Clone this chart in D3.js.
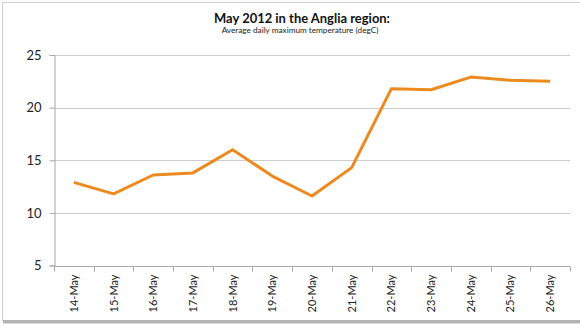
<!DOCTYPE html>
<html>
<head>
<meta charset="utf-8">
<script src="https://cdn.jsdelivr.net/npm/d3@7/dist/d3.min.js"></script>
<style>
  html, body { margin: 0; padding: 0; background: #fff; }
  svg { display: block; }
</style>
</head>
<body>
<svg id="chart" width="580" height="326"></svg>
<script>
// Daily maximum temperature, Anglia region, May 2012
const days = ["14-May", "15-May", "16-May", "17-May", "18-May", "19-May", "20-May",
              "21-May", "22-May", "23-May", "24-May", "25-May", "26-May"];
const maxTemp = [12.9, 11.8, 13.6, 13.8, 16.0, 13.5, 11.6, 14.3, 21.8, 21.7, 22.9, 22.6, 22.5];
const yTicks = [5, 10, 15, 20, 25];
const titleText = "May 2012 in the Anglia region:";
const subtitleText = "Average daily maximum temperature (degC)";

const W = 580, H = 326;
const plot = { left: 54, right: 570, top: 55, bottom: 265.5 };
const font = "Lato, 'Open Sans', sans-serif";

const svg = d3.select("#chart");

// Chart frame with a soft shadow along the bottom edge
svg.append("rect")
  .attr("x", 2.5).attr("y", 2.5).attr("width", 600).attr("height", 318)
  .attr("fill", "#fff").attr("stroke", "#cfcfcf").attr("stroke-width", 1);
svg.append("rect")
  .attr("x", 3).attr("y", 320).attr("width", 580).attr("height", 3)
  .attr("fill", "#b4b4b4");
svg.append("rect")
  .attr("x", 3).attr("y", 323).attr("width", 580).attr("height", 1)
  .attr("fill", "#dcdcdc");

const x = d3.scaleBand().domain(days).range([plot.left, plot.right]);
const y = d3.scaleLinear().domain([5, 25]).range([plot.bottom, plot.top]);

// Horizontal gridlines
svg.append("g")
  .selectAll("line")
  .data(yTicks.filter(t => t > 5))
  .join("line")
  .attr("x1", plot.left).attr("x2", plot.right)
  .attr("y1", d => Math.round(y(d)) + 0.5).attr("y2", d => Math.round(y(d)) + 0.5)
  .attr("stroke", "#cccccc").attr("stroke-width", 1);

// Y axis
const yAxis = svg.append("g")
  .attr("transform", `translate(${plot.left + 0.5},0)`)
  .call(d3.axisLeft(y).tickValues(yTicks).tickSize(5).tickPadding(8).tickFormat(d3.format("d")));
yAxis.select(".domain").attr("stroke", "#a8a8a8");
yAxis.selectAll(".tick line").attr("stroke", "#a8a8a8");
yAxis.selectAll("text")
  .attr("fill", "#222").style("font-family", font).style("font-size", "13px");

// X axis with category boundary ticks
const xAxisG = svg.append("g")
  .attr("transform", `translate(0,${Math.round(plot.bottom) + 0.5})`);
xAxisG.append("line")
  .attr("x1", plot.left).attr("x2", plot.right)
  .attr("stroke", "#a8a8a8");
const bounds = days.map(d => x(d)).concat([x(days[days.length - 1]) + x.bandwidth()]);
xAxisG.selectAll("line.bound")
  .data(bounds)
  .join("line")
  .attr("class", "bound")
  .attr("x1", d => Math.round(d) + 0.5).attr("x2", d => Math.round(d) + 0.5)
  .attr("y1", 0).attr("y2", 5)
  .attr("stroke", "#a8a8a8");
xAxisG.selectAll("text")
  .data(days)
  .join("text")
  .attr("transform", d => `translate(${x(d) + x.bandwidth() / 2 + 4},8) rotate(-90)`)
  .attr("text-anchor", "end")
  .attr("fill", "#222")
  .style("font-family", font).style("font-size", "11px")
  .text(d => d);

// Temperature line
const line = d3.line()
  .x((d, i) => x(days[i]) + x.bandwidth() / 2)
  .y(d => y(d));
svg.append("path")
  .datum(maxTemp)
  .attr("d", line)
  .attr("fill", "none")
  .attr("stroke", "#ec8a1f")
  .attr("stroke-width", 3)
  .attr("stroke-linejoin", "round");

// Titles, sized to their set widths
function fitText(sel, targetWidth) {
  const base = parseFloat(sel.style("font-size"));
  const w = sel.node().getComputedTextLength();
  sel.style("font-size", (base * targetWidth / w).toFixed(2) + "px");
}
const title = svg.append("text")
  .attr("x", 302).attr("y", 23)
  .attr("text-anchor", "middle")
  .attr("fill", "#111")
  .style("font-family", font).style("font-weight", "bold").style("font-size", "13px")
  .text(titleText);
fitText(title, 176);
const subtitle = svg.append("text")
  .attr("x", 300).attr("y", 33)
  .attr("text-anchor", "middle")
  .attr("fill", "#222")
  .style("font-family", font).style("font-size", "8px")
  .text(subtitleText);
fitText(subtitle, 157);
</script>
</body>
</html>
